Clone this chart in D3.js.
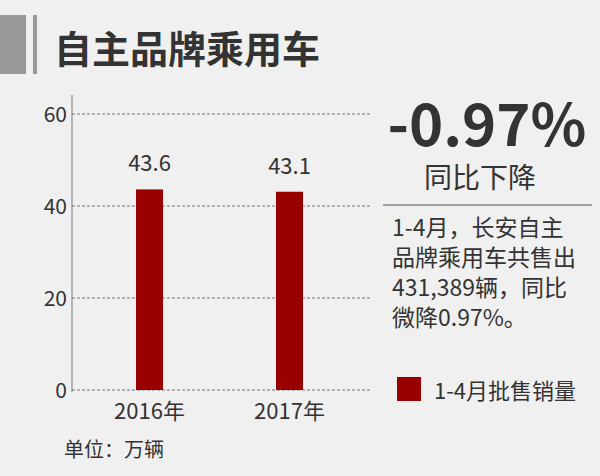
<!DOCTYPE html><html><head><meta charset="utf-8"><script src="https://cdn.jsdelivr.net/npm/d3@7"></script>
<style>body{margin:0;background:#f0f0f0}text{font-family:"Noto Sans CJK SC","Noto Sans",sans-serif}</style></head><body>
<svg id="c" width="600" height="476"></svg>
<script>
const categories=["2016年","2017年"];
const values=[43.6,43.1];
const ticks=[0,20,40,60];
const svg=d3.select("#c");
svg.append("rect").attr("width",600).attr("height",476).attr("fill","#f0f0f0");
svg.append("rect").attr("x",0).attr("y",15).attr("width",26).attr("height",59).attr("fill","#999");
svg.append("rect").attr("x",33).attr("y",15).attr("width",4).attr("height",59).attr("fill","#999");
svg.append("text").attr("x",54).attr("y",63).attr("font-size",38).attr("font-weight","bold").attr("fill","#333").text("自主品牌乘用车");
const y=d3.scaleLinear().domain([0,60]).range([390,114]);
const x=d3.scalePoint().domain(categories).range([149.5,289.5]);
const bw=27;
const g=svg.append("g");
ticks.forEach(t=>{
 g.append("line").attr("x1",72).attr("x2",371).attr("y1",y(t)).attr("y2",y(t)).attr("stroke","#777").attr("stroke-dasharray","3,2");
 g.append("text").attr("x",67).attr("y",y(t)+8).attr("text-anchor","end").attr("font-size",21).attr("fill","#333").text(t);
});
g.append("line").attr("x1",72).attr("x2",72).attr("y1",95).attr("y2",392).attr("stroke","#777");
categories.forEach((c,i)=>{
 g.append("rect").attr("x",x(c)-bw/2).attr("y",y(values[i])).attr("width",bw).attr("height",390-y(values[i])).attr("fill","#990000");
 g.append("text").attr("x",x(c)).attr("y",y(values[i])-18).attr("text-anchor","middle").attr("font-size",22).attr("fill","#333").text(values[i]);
 g.append("text").attr("x",x(c)).attr("y",419).attr("text-anchor","middle").attr("font-size",22).attr("fill","#333").text(c);
});
svg.append("text").attr("x",64).attr("y",457).attr("font-size",20).attr("fill","#333").text("单位：万辆");
svg.append("text").attr("x",487).attr("y",146).attr("text-anchor","middle").attr("font-size",58).attr("font-weight","bold").attr("fill","#333").text("-0.97%");
svg.append("text").attr("x",480).attr("y",188).attr("text-anchor","middle").attr("font-size",28).attr("fill","#333").text("同比下降");
svg.append("line").attr("x1",383).attr("x2",592).attr("y1",205).attr("y2",205).attr("stroke","#555");
["1-4月，长安自主","品牌乘用车共售出","431,389辆，同比","微降0.97%。"].forEach((s,i)=>
 svg.append("text").attr("x",392).attr("y",236+i*30).attr("font-size",23).attr("fill","#333").text(s));
svg.append("rect").attr("x",397).attr("y",377).attr("width",24).attr("height",24).attr("fill","#990000");
svg.append("text").attr("x",434).attr("y",399).attr("font-size",22).attr("fill","#333").text("1-4月批售销量");
</script></body></html>
